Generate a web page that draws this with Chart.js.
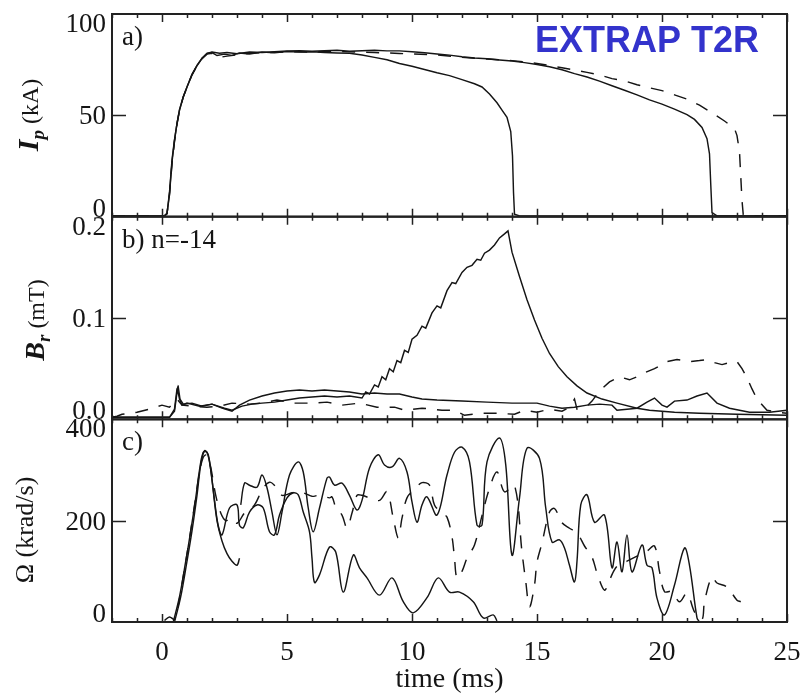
<!DOCTYPE html>
<html><head><meta charset="utf-8">
<script src="https://cdn.jsdelivr.net/npm/chart.js@4.4.1/dist/chart.umd.min.js"></script>
<style>html,body{margin:0;padding:0;background:#fff;}canvas{display:block;}</style>
</head><body>
<canvas id="c" width="804" height="698"></canvas>
<script>
// ---------- data (time in ms, value) ----------
const ipShort = [[-2,0.4],[0.1,0.4],[0.2,1.5],[0.3,12],[0.4,28],[0.5,38],[0.6,46],[0.7,52.5],[0.85,59],[1.0,64],[1.2,70],[1.4,74.5],[1.6,78],[1.8,80.5],[2.0,81],[2.2,79.5],[2.5,80.2],[2.8,79.6],[3.1,80.8],[3.5,80.3],[4.0,81.2],[4.5,80.9],[5.0,81.5],[5.5,81.2],[6.0,81.4],[6.5,81.0],[7.0,80.8],[7.5,80.6],[8.0,79.8],[8.5,78.6],[9.0,77.4],[9.5,75.6],[10.0,74.2],[10.5,72.6],[11.0,71.0],[11.5,69.6],[12.0,67.6],[12.5,65.6],[12.8,64.0],[13.1,60.5],[13.4,56.2],[13.6,52.6],[13.8,49],[13.95,42],[14.02,30],[14.06,12],[14.1,1.2],[14.3,0.4],[25,0.3]];
const ipLong = [[-2,0.4],[0.1,0.4],[0.2,1.5],[0.3,11],[0.4,27],[0.5,37.5],[0.6,46],[0.7,52.8],[0.85,59.2],[1.0,64],[1.2,70.2],[1.4,74.6],[1.6,78.2],[1.8,80.6],[2.0,81.2],[2.3,80.6],[2.6,81.0],[3.0,80.4],[3.5,81.2],[4.0,81.0],[4.5,81.4],[5.0,81.7],[5.5,81.9],[6.0,81.6],[6.5,81.9],[7.0,82.1],[7.5,81.6],[8.0,81.9],[8.5,82.1],[9.0,81.8],[9.5,81.8],[10.0,81.4],[10.5,80.9],[11.0,80.3],[11.5,79.7],[12.0,78.9],[12.5,78.3],[13.0,77.9],[13.5,77.3],[14.0,76.8],[14.5,76.0],[15.0,75.1],[15.5,74.0],[16.0,72.5],[16.5,70.6],[17.0,68.9],[17.5,66.9],[18.0,64.6],[18.5,62.4],[19.0,60.1],[19.5,57.6],[20.0,55.5],[20.5,53.1],[21.0,50.4],[21.3,48],[21.6,44],[21.8,38.5],[21.9,31],[21.95,16],[22.0,2],[22.2,0.4],[25,0.3]];
const ipDash = [[-2,0.4],[0.1,0.4],[0.2,1.5],[0.3,11],[0.4,26],[0.5,37],[0.6,45.5],[0.7,52.4],[0.85,59],[1.0,63.8],[1.2,70],[1.4,74.4],[1.6,78],[1.8,80.2],[2.0,80.6],[2.3,78.6],[2.6,79.2],[3.0,79.8],[3.5,80.6],[4.0,80.9],[4.5,81.1],[5.0,81.3],[5.5,81.4],[6.0,81.2],[6.5,81.5],[7.0,81.6],[7.5,81.3],[8.0,81.2],[8.5,81.0],[9.0,80.8],[9.5,80.5],[10.0,80.3],[11.0,79.8],[12.0,78.6],[13.0,77.8],[14.0,77.0],[15.0,75.6],[16.0,73.5],[16.5,72.4],[17.0,71.2],[17.5,70.0],[18.0,68.1],[18.5,67.0],[19.0,65.1],[19.5,63.6],[20.0,62.2],[20.5,60.1],[21.0,58.0],[21.5,55.0],[22.0,51.2],[22.5,47.2],[22.9,43.5],[23.0,40],[23.1,32],[23.15,20],[23.2,8],[23.25,1],[23.4,0.4],[25,0.3]];

const brShort = [[-2,0.002],[0.3,0.002],[0.5,0.008],[0.62,0.03],[0.7,0.02],[0.8,0.014],[1.0,0.016],[1.5,0.013],[2.0,0.015],[2.5,0.011],[2.8,0.009],[3.2,0.013],[3.6,0.015],[4.0,0.016],[4.5,0.017],[5.0,0.019],[5.5,0.021],[6.0,0.022],[6.5,0.023],[7.0,0.022],[7.5,0.023],[8.0,0.021],[8.15,0.027],[8.3,0.025],[8.5,0.034],[8.65,0.032],[8.8,0.042],[8.95,0.039],[9.1,0.050],[9.25,0.047],[9.4,0.058],[9.55,0.056],[9.7,0.068],[9.85,0.066],[10.0,0.079],[10.2,0.083],[10.4,0.092],[10.55,0.090],[10.8,0.105],[11.0,0.112],[11.15,0.110],[11.4,0.127],[11.6,0.135],[11.75,0.134],[12.0,0.145],[12.2,0.150],[12.4,0.152],[12.6,0.158],[12.75,0.157],[12.9,0.164],[13.1,0.167],[13.3,0.172],[13.5,0.179],[13.7,0.183],[13.84,0.186],[14.0,0.165],[14.3,0.141],[14.6,0.118],[14.9,0.098],[15.2,0.080],[15.5,0.065],[15.85,0.052],[16.2,0.042],[16.6,0.033],[17.0,0.026],[17.6,0.020],[18.2,0.016],[19.0,0.011],[19.5,0.009],[20.5,0.007],[21.5,0.006],[23.0,0.005],[25,0.004]];
const brLong = [[-2,0.002],[0.3,0.002],[0.5,0.010],[0.6,0.030],[0.65,0.032],[0.72,0.020],[0.85,0.015],[1.2,0.016],[1.6,0.013],[2.0,0.015],[2.4,0.011],[2.8,0.008],[3.1,0.014],[3.5,0.019],[4.0,0.023],[4.5,0.026],[5.0,0.028],[5.5,0.029],[6.0,0.028],[6.5,0.029],[7.0,0.028],[7.5,0.027],[8.0,0.025],[8.5,0.026],[9.0,0.025],[9.5,0.025],[10.0,0.022],[10.4,0.020],[11.0,0.019],[12.0,0.018],[13.0,0.017],[14.0,0.016],[15.0,0.016],[15.5,0.013],[16.0,0.011],[16.5,0.012],[17.0,0.014],[17.5,0.015],[18.0,0.014],[18.2,0.009],[18.6,0.010],[19.0,0.011],[19.4,0.017],[19.7,0.021],[20.0,0.014],[20.2,0.012],[20.5,0.018],[21.0,0.019],[21.4,0.023],[21.8,0.026],[22.2,0.016],[22.7,0.011],[23.5,0.007],[24.3,0.007],[25,0.009]];
const brDash = [[-2,0.002],[-1.8,0.003],[-1.6,0.005],[-1.0,0.007],[-0.5,0.010],[0.0,0.014],[0.3,0.012],[0.6,0.020],[0.8,0.014],[1.2,0.013],[1.8,0.012],[2.3,0.013],[2.8,0.016],[3.5,0.015],[4.0,0.016],[4.6,0.019],[5.3,0.016],[6.0,0.016],[6.6,0.017],[7.2,0.014],[7.9,0.016],[8.6,0.012],[9.3,0.012],[9.7,0.009],[10.4,0.011],[11.2,0.009],[11.7,0.009],[12.1,0.004],[12.8,0.006],[13.4,0.006],[14.1,0.005],[14.5,0.009],[15.0,0.007],[15.5,0.010],[16.0,0.008],[16.3,0.012],[16.5,0.020],[16.6,0.010],[17.0,0.013],[17.2,0.018],[17.5,0.028],[17.9,0.037],[18.3,0.042],[18.7,0.039],[19.0,0.042],[19.3,0.046],[19.7,0.050],[20.2,0.057],[20.6,0.059],[21.1,0.057],[21.5,0.058],[21.8,0.059],[22.1,0.056],[22.4,0.054],[22.7,0.056],[23.0,0.057],[23.2,0.050],[23.4,0.041],[23.6,0.030],[23.8,0.020],[24.2,0.009],[24.6,0.007],[25,0.006]];

const omegaShort = [[0.45,0],[0.7,50],[0.95,120],[1.15,180],[1.35,245],[1.5,300],[1.65,335],[1.8,335],[1.95,300],[2.1,240],[2.25,190],[2.4,172],[2.7,225],[3.0,231],[3.1,191],[3.25,186],[3.5,217],[3.8,231],[4.05,225],[4.3,178],[4.5,172],[4.7,211],[5.0,245],[5.25,255],[5.45,251],[5.65,217],[5.9,178],[6.0,126],[6.1,78],[6.3,93],[6.7,148],[6.95,138],[7.25,59],[7.65,132],[7.9,107],[8.2,87],[8.7,53],[9.2,87],[9.65,40],[10.05,18],[10.6,48],[11.05,87],[11.5,59],[11.9,59],[12.45,40],[12.85,8],[13.25,14],[13.4,2]];
const omegaLong = [[0.5,0],[0.75,50],[1.0,120],[1.2,180],[1.4,250],[1.55,310],[1.7,338],[1.85,330],[2.0,280],[2.2,200],[2.4,160],[2.6,135],[2.8,120],[3.0,112],[3.1,126],[3.12,null],[3.15,231],[3.3,274],[3.5,270],[3.8,266],[4.0,290],[4.2,265],[4.4,217],[4.6,172],[4.8,217],[5.1,290],[5.45,316],[5.65,296],[5.85,225],[6.05,178],[6.3,225],[6.6,284],[6.7,286],[6.9,270],[7.2,274],[7.5,250],[7.8,221],[8.0,240],[8.3,304],[8.65,330],[8.9,310],[9.2,306],[9.5,323],[9.8,296],[10.0,237],[10.2,197],[10.4,231],[10.6,247],[11.0,211],[11.4,290],[11.7,335],[12.0,345],[12.3,316],[12.6,191],[12.8,191],[13.0,316],[13.5,363],[13.75,310],[14.0,132],[14.3,245],[14.6,343],[15.1,323],[15.35,225],[15.6,158],[15.9,162],[16.1,146],[16.3,112],[16.5,79],[16.6,120],[16.75,231],[17.0,251],[17.3,197],[17.7,211],[18.0,107],[18.2,158],[18.4,99],[18.6,172],[18.8,99],[19.2,152],[19.4,112],[19.6,107],[19.8,47],[20.1,14],[20.5,73],[20.9,146],[21.1,112],[21.4,8],[21.5,0]];
const omegaDash = [[0.1,3],[0.3,10],[0.5,5],[0.6,20],[0.85,90],[1.1,165],[1.3,230],[1.5,295],[1.65,325],[1.8,330],[1.95,305],[2.15,250],[2.35,215],[2.55,200],[2.75,205],[3.0,195],[3.3,215],[3.7,231],[4.0,260],[4.3,276],[4.6,264],[4.8,250],[5.2,255],[5.5,257],[5.8,252],[6.0,248],[6.3,250],[6.7,245],[6.8,247],[6.95,227],[7.2,211],[7.4,186],[7.6,215],[7.8,250],[8.0,250],[8.3,245],[8.7,240],[9.0,257],[9.25,205],[9.45,166],[9.6,205],[9.8,245],[10.1,262],[10.4,275],[10.7,270],[10.9,231],[11.2,215],[11.4,207],[11.6,168],[11.7,126],[11.8,87],[12.0,100],[12.2,126],[12.5,152],[12.8,210],[13.1,264],[13.4,296],[13.7,257],[14.1,270],[14.4,138],[14.55,80],[14.7,30],[14.9,73],[15.0,118],[15.2,156],[15.5,217],[15.7,224],[16.0,196],[16.3,185],[16.6,176],[16.9,150],[17.2,128],[17.4,97],[17.7,63],[17.9,83],[18.2,110],[18.6,120],[19.0,130],[19.4,140],[19.7,150],[19.9,100],[20.1,60],[20.4,60],[20.7,40],[21.0,57],[21.3,20],[21.6,5],[21.7,40],[22.0,89],[22.2,77],[22.6,69],[23.0,43],[23.15,40]];

// ---------- axes / labels ----------
const xRange = [-2, 25];
const xTickLabels = [0, 5, 10, 15, 20, 25];
const ipRange = [0, 100];   const ipTicks = [0, 50, 100];     const ipTickLabels = ['0', '50', '100'];
const brRange = [0, 0.2];   const brTicks = [0, 0.1, 0.2];    const brTickLabels = ['0.0', '0.1', '0.2'];
const omRange = [0, 400];   const omTicks = [0, 200, 400];    const omTickLabels = ['0', '200', '400'];
const panelLabels = ['a)', 'b) n=-14', 'c)'];
const xTitle = 'time (ms)';
const brandText = 'EXTRAP T2R';

const SERIF = '"Liberation Serif","Times New Roman",serif';
const INK = '#151515';

const xy = a => a.map(([x, y]) => ({x: x, y: y}));
function ds(arr, axis, dashed, tension) {
  return {data: xy(arr), yAxisID: axis, showLine: true, borderColor: INK, backgroundColor: INK,
    borderWidth: 1.45, borderDash: dashed ? [13, 11] : [], pointRadius: 0, tension: tension || 0,
    spanGaps: false, fill: false};
}
const hidden = {ticks: {display: false}, grid: {display: false, drawTicks: false}, border: {display: false}};
function yScale(r) {
  return Object.assign({type: 'linear', position: 'left', stack: 'panels', stackWeight: 1, min: r[0], max: r[1]}, JSON.parse(JSON.stringify(hidden)));
}

function rotText(ctx, cx, cy, parts) {
  ctx.save();
  ctx.translate(cx, cy);
  ctx.rotate(-Math.PI / 2);
  let total = 0;
  parts.forEach(p => { ctx.font = p.font; p.w = ctx.measureText(p.text).width; total += p.w; });
  let x = -total / 2;
  ctx.textAlign = 'left'; ctx.textBaseline = 'alphabetic';
  parts.forEach(p => { ctx.font = p.font; ctx.fillText(p.text, x, p.dy || 0); x += p.w; });
  ctx.restore();
}

const decor = {
  id: 'decor',
  afterDraw(chart) {
    const ctx = chart.ctx;
    const xs = chart.scales.x;
    const L = chart.chartArea.left, R = chart.chartArea.right;
    const panels = [
      {id: 'yA', ticks: ipTicks, labels: ipTickLabels, range: ipRange},
      {id: 'yB', ticks: brTicks, labels: brTickLabels, range: brRange},
      {id: 'yC', ticks: omTicks, labels: omTickLabels, range: omRange}
    ];
    ctx.save();
    ctx.strokeStyle = '#222';
    ctx.fillStyle = INK;
    panels.forEach((p, i) => {
      const ys = chart.scales[p.id];
      const T = ys.top, B = ys.bottom;
      ctx.lineWidth = 1.5;
      ctx.beginPath();
      for (let t = Math.ceil(xRange[0]); t <= xRange[1]; t++) {
        const px = Math.round(xs.getPixelForValue(t)) + 0.5;
        const len = (t % 5 === 0) ? 8 : 4;
        ctx.moveTo(px, B); ctx.lineTo(px, B - len);
        ctx.moveTo(px, T); ctx.lineTo(px, T + len);
      }
      p.ticks.forEach(v => {
        if (v === p.range[0] || v === p.range[1]) return;
        const py = Math.round(ys.getPixelForValue(v)) + 0.5;
        ctx.moveTo(L, py); ctx.lineTo(L + 14, py);
        ctx.moveTo(R, py); ctx.lineTo(R - 14, py);
      });
      ctx.stroke();
      ctx.lineWidth = 2;
      ctx.strokeRect(L, T, R - L, B - T);
      ctx.font = '27px ' + SERIF;
      ctx.textAlign = 'right'; ctx.textBaseline = 'alphabetic';
      p.ticks.forEach((v, k) => {
        let py = ys.getPixelForValue(v);
        if (v === p.range[1]) py += 9;
        if (v === p.range[0]) py -= 9;
        ctx.fillText(p.labels[k], L - 6, py + 9);
      });
      ctx.textAlign = 'left';
      ctx.font = '27px ' + SERIF;
      ctx.fillText(panelLabels[i], L + 10, T + 31);
    });
    ctx.textAlign = 'center';
    ctx.font = '27px ' + SERIF;
    xTickLabels.forEach(v => ctx.fillText(String(v), xs.getPixelForValue(v), 660));
    ctx.font = '28px ' + SERIF;
    ctx.fillText(xTitle, (L + R) / 2, 687);
    rotText(ctx, 38, 115, [
      {text: 'I', font: 'italic bold 30px ' + SERIF},
      {text: 'p', font: 'italic bold 19px ' + SERIF, dy: 6},
      {text: ' (kA)', font: '24px ' + SERIF}
    ]);
    rotText(ctx, 44, 320, [
      {text: 'B', font: 'italic bold 28px ' + SERIF},
      {text: 'r', font: 'italic bold 19px ' + SERIF, dy: 6},
      {text: ' (mT)', font: '24px ' + SERIF}
    ]);
    rotText(ctx, 33, 530, [
      {text: 'Ω (krad/s)', font: '26px ' + SERIF}
    ]);
    ctx.textAlign = 'left';
    ctx.fillStyle = '#3333cc';
    ctx.font = 'bold 36px "Liberation Sans", Arial, sans-serif';
    ctx.fillText(brandText, 535, 52);
    ctx.restore();
  }
};

new Chart(document.getElementById('c').getContext('2d'), {
  type: 'scatter',
  data: {datasets: [
    ds(ipShort, 'yA', false), ds(ipLong, 'yA', false), ds(ipDash, 'yA', true),
    ds(brShort, 'yB', false), ds(brLong, 'yB', false), ds(brDash, 'yB', true),
    ds(omegaShort, 'yC', false, 0.35), ds(omegaLong, 'yC', false, 0.35), ds(omegaDash, 'yC', true, 0.35)
  ]},
  options: {
    responsive: false, animation: false, devicePixelRatio: 1,
    layout: {padding: {left: 112, right: 17, top: 14, bottom: 76}},
    plugins: {legend: {display: false}, tooltip: {enabled: false}, title: {display: false}},
    scales: {
      x: Object.assign({type: 'linear', min: xRange[0], max: xRange[1]}, JSON.parse(JSON.stringify(hidden))),
      yC: yScale(omRange),
      yB: yScale(brRange),
      yA: yScale(ipRange)
    }
  },
  plugins: [decor]
});
</script>
</body></html>
